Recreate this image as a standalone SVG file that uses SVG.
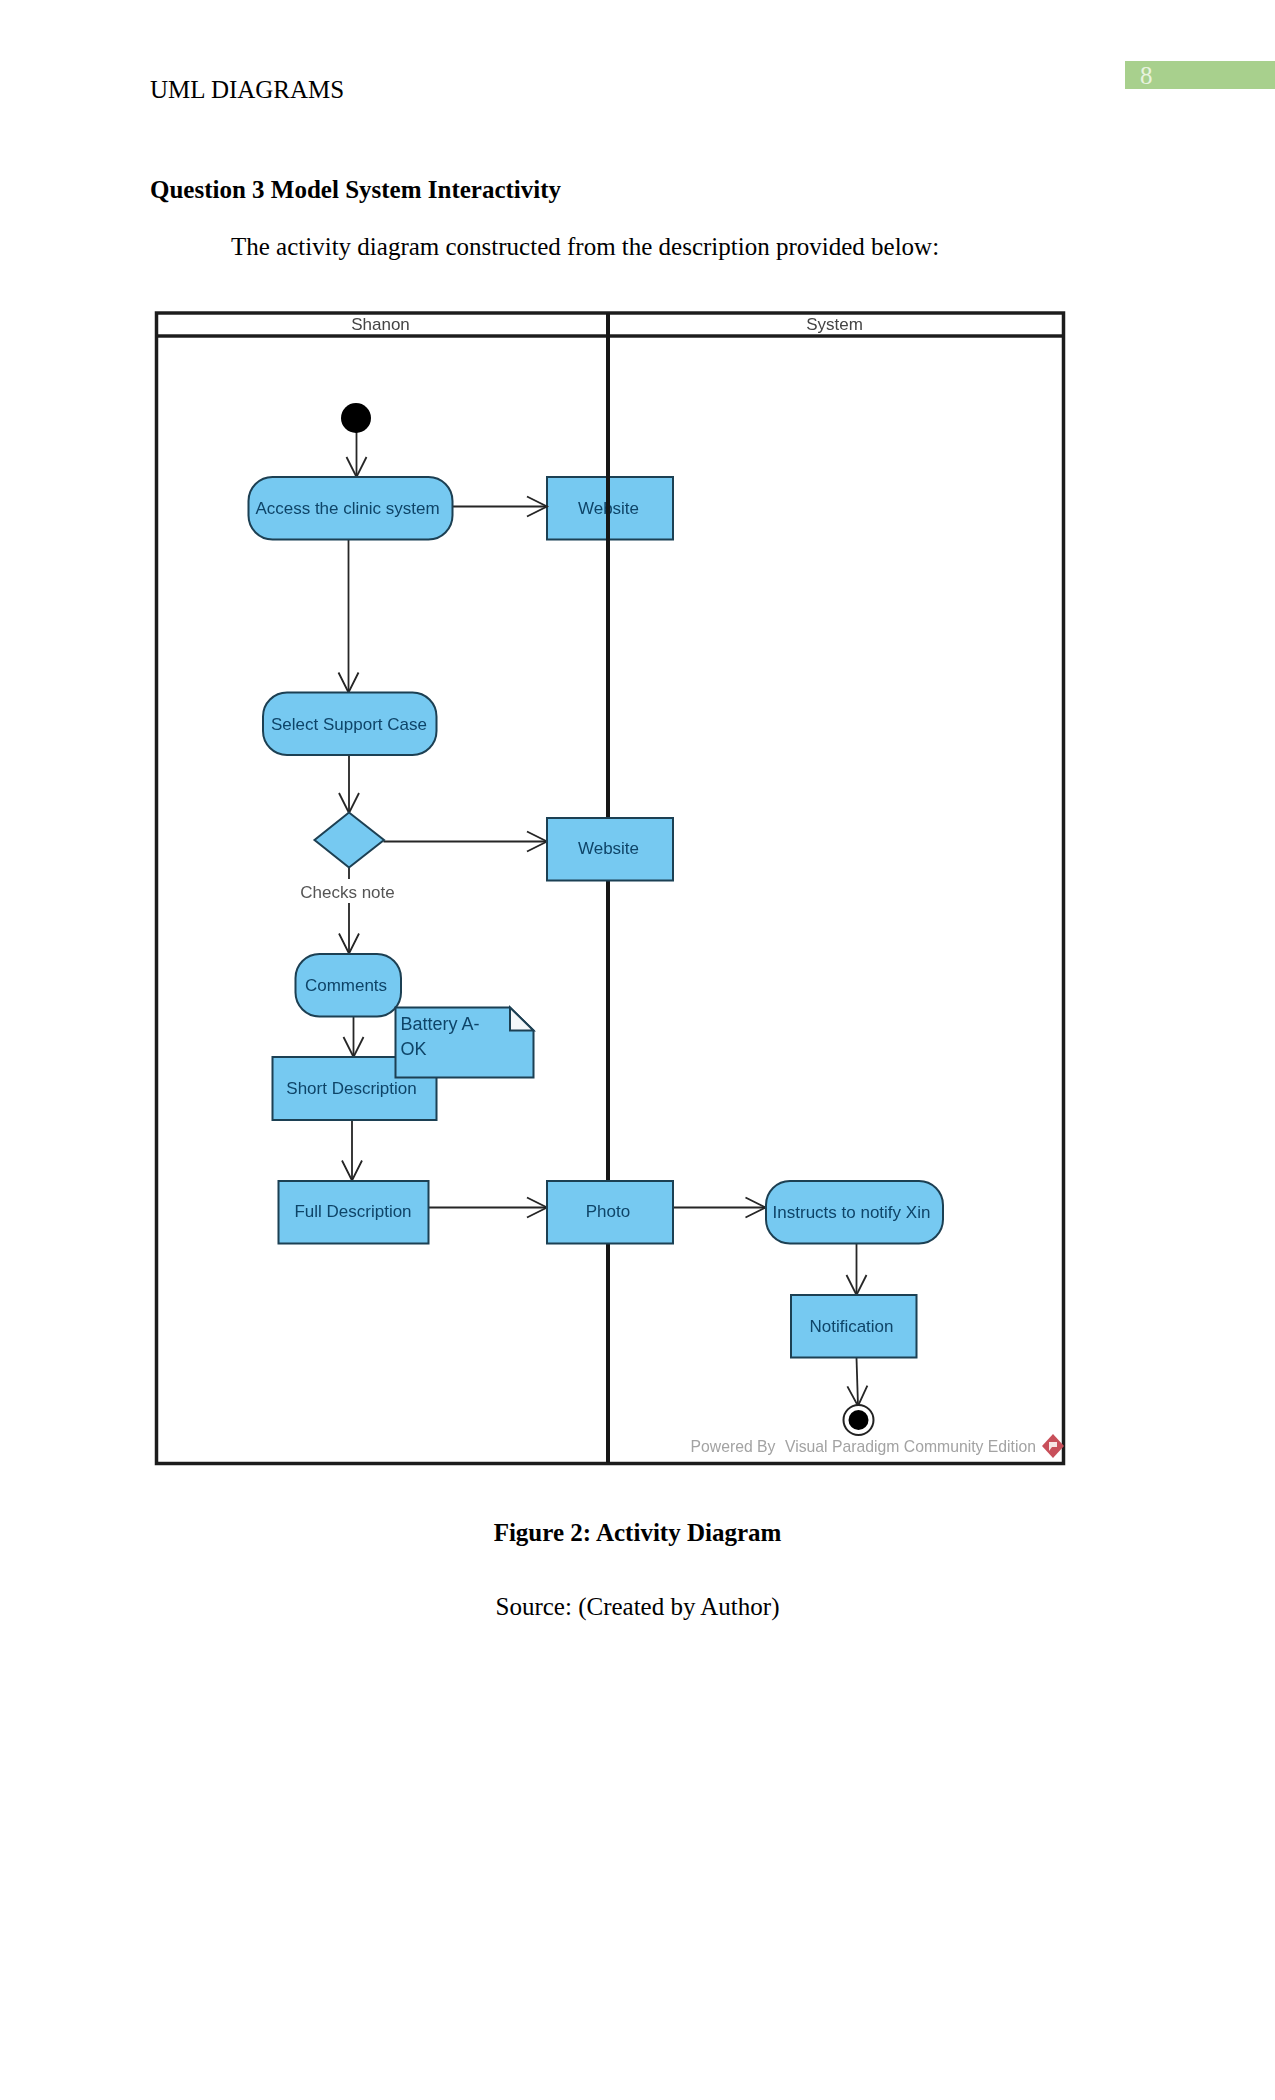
<svg xmlns="http://www.w3.org/2000/svg" width="1275" height="2100" viewBox="0 0 1275 2100">
  <style>
    .page { font-family: "Liberation Serif", "Times New Roman", serif; font-size: 25px; fill: #000; }
    .bold { font-weight: bold; }
    .mid { text-anchor: middle; }
    .lane { font-family: "Liberation Sans", Arial, sans-serif; font-size: 17px; fill: #444; text-anchor: middle; }
    .label { font-family: "Liberation Sans", Arial, sans-serif; font-size: 17px; fill: #0f4468; text-anchor: middle; }
    .note { font-family: "Liberation Sans", Arial, sans-serif; font-size: 18px; fill: #0f4468; }
    .guard { font-family: "Liberation Sans", Arial, sans-serif; font-size: 17px; fill: #555; text-anchor: middle; }
    .credit { font-family: "Liberation Sans", Arial, sans-serif; font-size: 15.75px; fill: #a3a3a3; }
    .shape { fill: #76c9f1; stroke: #1d3f52; stroke-width: 2; }
    .frame { fill: none; stroke: #1f1f1f; stroke-width: 3.5; }
    .divider { fill: none; stroke: #161616; stroke-width: 4; }
    .flow { fill: none; stroke: #252525; stroke-width: 1.8; marker-end: url(#open); }
    .plain { fill: none; stroke: #252525; stroke-width: 1.8; }
  </style>
  <defs>
    <marker id="open" markerUnits="userSpaceOnUse" markerWidth="26" markerHeight="26" refX="23" refY="13" orient="auto">
      <path d="M3,3 L23,13 L3,23" fill="none" stroke="#252525" stroke-width="1.8"/>
    </marker>
    <filter id="soft" x="-2%" y="-2%" width="104%" height="104%">
      <feGaussianBlur stdDeviation="0.55"/>
    </filter>
  </defs>

  <!-- Running header -->
  <rect id="page-band" x="1125" y="61" width="150" height="28" fill="#a8d08d"/>
  <text class="page" x="1140" y="84" style="fill:#e8f3df">8</text>
  <text class="page" x="150" y="98">UML DIAGRAMS</text>

  <!-- Body text above the figure -->
  <text class="page bold" x="150" y="198">Question 3 Model System Interactivity</text>
  <text class="page" x="231" y="255">The activity diagram constructed from the description provided below:</text>

  <!-- Activity diagram -->
  <g id="figure" filter="url(#soft)">
    <g id="swimlanes">
      <rect class="frame" x="156.5" y="313" width="907" height="1150.5"/>
      <line class="frame" x1="156.5" y1="336" x2="1063.5" y2="336"/>
      <text class="lane" x="380.5" y="330">Shanon</text>
      <text class="lane" x="834.5" y="330">System</text>
    </g>

    <g id="website-access">
      <rect class="shape" x="547" y="477" width="126" height="62.5"/>
      <text class="label" x="608.5" y="514">Website</text>
    </g>

    <line id="lane-divider" class="divider" x1="608" y1="313" x2="608" y2="1463.5"/>

    <g id="connectors">
      <line class="flow" x1="356.5" y1="432" x2="356.5" y2="477"/>
      <line class="flow" x1="452.5" y1="506.5" x2="547" y2="506.5"/>
      <line class="flow" x1="348.5" y1="539.5" x2="348.5" y2="692.5"/>
      <line class="flow" x1="349" y1="755.5" x2="349" y2="813"/>
      <line class="flow" x1="383.5" y1="841.5" x2="547" y2="841.5"/>
      <line class="plain" x1="349" y1="867" x2="349" y2="879"/>
      <line class="flow" x1="349" y1="903" x2="349" y2="953.5"/>
      <line class="flow" x1="353.5" y1="1017" x2="353.5" y2="1057"/>
      <line class="flow" x1="352" y1="1120" x2="352" y2="1180.5"/>
      <line class="flow" x1="428.5" y1="1207.5" x2="547" y2="1207.5"/>
      <line class="flow" x1="673" y1="1207.5" x2="765.5" y2="1207.5"/>
      <line class="flow" x1="856.5" y1="1243.5" x2="856.5" y2="1295"/>
      <line class="flow" x1="856.5" y1="1358" x2="858" y2="1406"/>
    </g>

    <g id="start">
      <circle cx="356" cy="418" r="15" fill="#000"/>
    </g>
    <g id="access-clinic">
      <rect class="shape" x="248.5" y="477" width="204" height="62.5" rx="24" ry="24"/>
      <text class="label" x="347.5" y="514">Access the clinic system</text>
    </g>
    <g id="select-support">
      <rect class="shape" x="263" y="692.5" width="173.5" height="62.5" rx="24" ry="24"/>
      <text class="label" x="349" y="730">Select Support Case</text>
    </g>
    <g id="decision">
      <polygon class="shape" points="349,812.5 384,840 349,867.5 314.5,840"/>
    </g>
    <g id="website-note">
      <rect class="shape" x="547" y="818" width="126" height="62.5"/>
      <text class="label" x="608.5" y="854">Website</text>
    </g>
    <text id="checks-note" class="guard" x="347.5" y="898">Checks note</text>
    <g id="comments">
      <rect class="shape" x="295.5" y="954" width="105.5" height="62.5" rx="24" ry="24"/>
      <text class="label" x="346" y="991">Comments</text>
    </g>
    <g id="short-description">
      <rect class="shape" x="272.5" y="1057" width="164" height="63"/>
      <text class="label" x="351.5" y="1094">Short Description</text>
    </g>
    <g id="battery-note">
      <path class="shape" d="M395.5,1007.5 H510 L533.5,1030.5 V1077.5 H395.5 Z"/>
      <path d="M510,1007.5 L533.5,1030.5 H510 Z" fill="#f4f8fa" stroke="#1d3f52" stroke-width="2"/>
      <text class="note" x="400.5" y="1030">Battery A-</text>
      <text class="note" x="400.5" y="1055">OK</text>
    </g>
    <g id="full-description">
      <rect class="shape" x="278.5" y="1181" width="150" height="62.5"/>
      <text class="label" x="353" y="1217">Full Description</text>
    </g>
    <g id="photo">
      <rect class="shape" x="547" y="1181" width="126" height="62.5"/>
      <text class="label" x="608" y="1217">Photo</text>
    </g>
    <g id="instructs">
      <rect class="shape" x="766" y="1181" width="177" height="62.5" rx="24" ry="24"/>
      <text class="label" x="851.5" y="1218">Instructs to notify Xin</text>
    </g>
    <g id="notification">
      <rect class="shape" x="791" y="1295" width="125.5" height="62.5"/>
      <text class="label" x="851.5" y="1332">Notification</text>
    </g>
    <g id="end">
      <circle cx="858.5" cy="1420" r="15" fill="#fff" stroke="#222" stroke-width="2"/>
      <circle cx="858.5" cy="1420" r="10" fill="#000"/>
    </g>

    <g id="credit">
      <text class="credit" x="690.5" y="1452">Powered By</text>
      <text class="credit" x="785" y="1452">Visual Paradigm Community Edition</text>
      <polygon points="1053,1434 1064,1446 1053,1458 1042,1446" fill="#c8505a"/>
      <path d="M1049,1442 H1057 V1447 H1052 L1049,1451 Z" fill="#f7e4e4"/>
    </g>
  </g>

  <!-- Caption -->
  <text class="page bold mid" x="637.5" y="1541">Figure 2: Activity Diagram</text>
  <text class="page mid" x="637.5" y="1615">Source: (Created by Author)</text>
</svg>
